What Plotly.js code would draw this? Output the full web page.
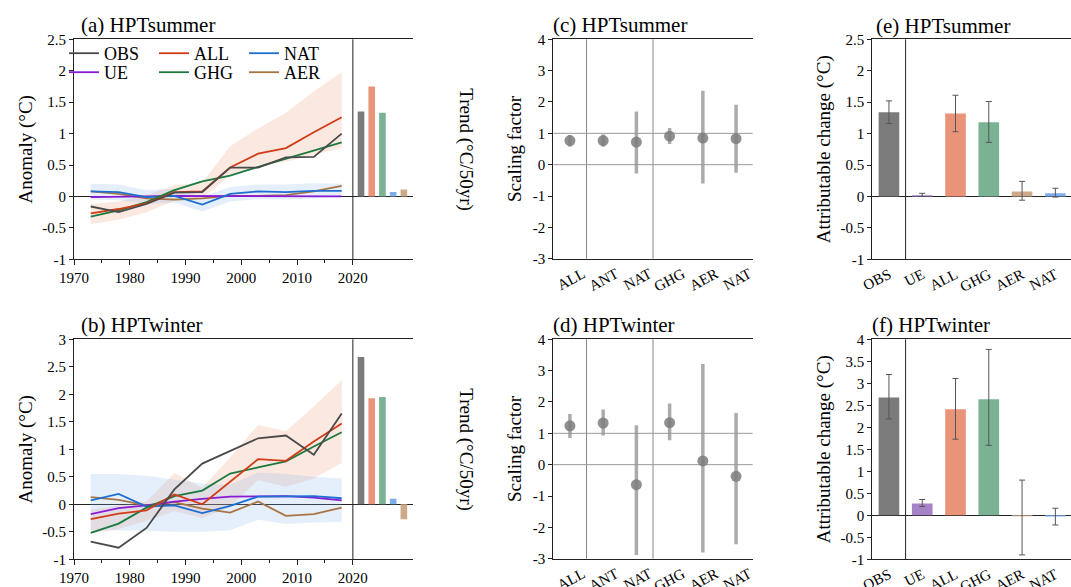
<!DOCTYPE html>
<html><head><meta charset="utf-8">
<script src="https://cdn.plot.ly/plotly-3.0.1.min.js"></script>
<style>html,body{margin:0;padding:0;background:#fff}</style>
</head><body><div id="chart" style="width:1071px;height:587px"></div>
<script>
// ---------- data ----------
const years = [1973,1978,1983,1988,1993,1998,2003,2008,2013,2018];

// (a) HPTsummer anomalies
const obsA = [-0.16,-0.25,-0.12,0.06,0.07,0.46,0.46,0.62,0.63,1.00];
const allA = [-0.27,-0.20,-0.11,0.07,0.08,0.46,0.68,0.77,1.02,1.26];
const natA = [0.08,0.07,-0.01,0.01,-0.13,0.04,0.08,0.07,0.09,0.09];
const ueA  = [-0.01,-0.01,0.00,0.01,0.01,0.01,0.01,0.01,0.01,0.00];
const ghgA = [-0.32,-0.22,-0.09,0.10,0.24,0.33,0.47,0.60,0.73,0.86];
const aerA = [0.08,0.04,-0.03,-0.05,-0.03,0.01,0.01,0.02,0.08,0.17];
const allLoA = [-0.44,-0.37,-0.25,-0.07,-0.04,0.34,0.50,0.55,0.66,0.77];
const allHiA = [-0.12,-0.08,0.02,0.18,0.22,0.80,1.08,1.33,1.67,1.98];
const natLoA = [-0.05,-0.06,-0.12,-0.10,-0.24,-0.08,-0.04,-0.05,-0.03,-0.01];
const natHiA = [0.20,0.19,0.10,0.12,-0.01,0.15,0.19,0.19,0.21,0.20];

// (b) HPTwinter anomalies
const obsB = [-0.68,-0.79,-0.43,0.27,0.74,0.97,1.20,1.25,0.90,1.65];
const allB = [-0.27,-0.17,-0.11,0.18,0.00,0.41,0.82,0.79,1.14,1.47];
const natB = [0.07,0.19,-0.04,-0.02,-0.16,-0.03,0.14,0.15,0.15,0.11];
const ueB  = [-0.18,-0.07,-0.02,0.05,0.10,0.14,0.145,0.15,0.12,0.07];
const ghgB = [-0.52,-0.35,-0.06,0.15,0.25,0.56,0.67,0.78,1.05,1.31];
const aerB = [0.13,0.08,-0.02,0.04,-0.08,-0.15,0.05,-0.21,-0.18,-0.06];
const allLoB = [-0.53,-0.45,-0.30,-0.12,-0.25,-0.05,0.44,0.32,0.47,0.75];
const allHiB = [-0.10,-0.02,0.05,0.57,0.30,0.85,1.44,1.33,1.78,2.26];
const natLoB = [-0.47,-0.47,-0.48,-0.50,-0.50,-0.47,-0.28,-0.36,-0.33,-0.32];
const natHiB = [0.55,0.55,0.52,0.45,0.38,0.35,0.58,0.55,0.50,0.47];

// trend bars (°C/50yr)
const trendCats = ['OBS','ALL','GHG','NAT','AER'];
const trendA = [1.35,1.75,1.33,0.07,0.11];
const trendB = [2.68,1.93,1.95,0.10,-0.27];

// scaling factors
const sfLabels = ['ALL','ANT','NAT','GHG','AER','NAT'];
const sfC   = [0.77,0.77,0.72,0.91,0.85,0.83];
const sfCLo = [0.57,0.57,-0.28,0.66,-0.60,-0.26];
const sfCHi = [0.95,0.96,1.70,1.17,2.36,1.91];
const sfD   = [1.24,1.33,-0.64,1.34,0.12,-0.37];
const sfDLo = [0.85,0.93,-2.88,0.78,-2.80,-2.54];
const sfDHi = [1.62,1.76,1.26,1.95,3.21,1.65];

// attributable change (°C)
const acCats = ['OBS','UE','ALL','GHG','AER','NAT'];
const acE   = [1.34,0.02,1.32,1.18,0.08,0.05];
const acELo = [1.16,0.00,1.03,0.86,-0.06,-0.01];
const acEHi = [1.52,0.05,1.61,1.51,0.24,0.13];
const acF   = [2.68,0.27,2.41,2.64,-0.02,-0.03];
const acFLo = [2.19,0.20,1.73,1.59,-0.90,-0.22];
const acFHi = [3.20,0.36,3.11,3.77,0.80,0.16];

// ticks
const yTicksA = [-1,-0.5,0,0.5,1,1.5,2,2.5];
const yTicksB = [-1,-0.5,0,0.5,1,1.5,2,2.5,3];
const yTicksSF = [-3,-2,-1,0,1,2,3,4];
const yTicksE = [-1,-0.5,0,0.5,1,1.5,2,2.5];
const yTicksF = [-1,-0.5,0,0.5,1,1.5,2,2.5,3,3.5,4];
const xTicksYears = [1970,1980,1990,2000,2010,2020];
const xMinorYears = [1975,1985,1995,2005,2015];

// ---------- style ----------
const W = 1071, H = 587;
const FONT = 'Liberation Serif';
const AX = '#222';
const C = {OBS:'#4a4a4a', ALL:'#d13b16', NAT:'#1f6fd1', UE:'#8a1ad6', GHG:'#1b7a3e', AER:'#a87444'};
const BAR = {OBS:'#7b7b7b', UE:'#a882c6', ALL:'#e99479', GHG:'#7ab394', NAT:'#7eaeea', AER:'#cdaa8a'};
const BAND_ALL = 'rgba(236,150,120,0.22)';
const BAND_NAT = 'rgba(130,180,235,0.22)';
const splitYear = 2020, xEnd = 2030.84;

const px = v => v / W;
const py = v => 1 - v / H;
const tt = a => a.map(v => String(v));
const tickfont = () => ({family: FONT, size: 15, color: '#000'});
const titlefont = () => ({family: FONT, size: 19, color: '#000'});

const dom = {
  tsX: [px(74), px(413.3)], barX: [px(352.7), px(413.3)],
  topY: [py(259.3), py(39.3)], botY: [py(559.3), py(339.3)],
  sfX: [px(553.3), px(752.7)], sfTopY: [py(258.7), py(39.3)], sfBotY: [py(558.7), py(339.3)],
  acX: [px(872.3), 1]
};

const traces = [];
function band(xa, ya, lo, hi, color) {
  traces.push({x: years.concat(years.slice().reverse()), y: hi.concat(lo.slice().reverse()),
    xaxis: xa, yaxis: ya, type: 'scatter', mode: 'lines', fill: 'toself', fillcolor: color,
    line: {width: 0, color: color}, hoverinfo: 'skip', showlegend: false});
}
function series(xa, ya, name, ys, leg, rank, show) {
  traces.push({x: years, y: ys, xaxis: xa, yaxis: ya, type: 'scatter', mode: 'lines', name: name,
    line: {color: C[name], width: 1.8}, showlegend: show, legend: leg, legendrank: rank});
}
function tsPanel(xa, ya, xb, d, show) {
  band(xa, ya, d.allLo, d.allHi, BAND_ALL);
  band(xa, ya, d.natLo, d.natHi, BAND_NAT);
  series(xa, ya, 'AER', d.aer, 'legend2', 6, show);
  series(xa, ya, 'UE', d.ue, 'legend2', 4, show);
  series(xa, ya, 'NAT', d.nat, 'legend', 3, show);
  series(xa, ya, 'GHG', d.ghg, 'legend2', 5, show);
  series(xa, ya, 'ALL', d.all, 'legend', 2, show);
  series(xa, ya, 'OBS', d.obs, 'legend', 1, show);
  traces.push({x: trendCats, y: d.trend, xaxis: xb, yaxis: ya, type: 'bar', width: 0.62,
    marker: {color: trendCats.map(k => BAR[k])}, showlegend: false});
}
tsPanel('x', 'y', 'x2', {obs: obsA, all: allA, nat: natA, ue: ueA, ghg: ghgA, aer: aerA,
  allLo: allLoA, allHi: allHiA, natLo: natLoA, natHi: natHiA, trend: trendA}, true);
tsPanel('x3', 'y3', 'x4', {obs: obsB, all: allB, nat: natB, ue: ueB, ghg: ghgB, aer: aerB,
  allLo: allLoB, allHi: allHiB, natLo: natLoB, natHi: natHiB, trend: trendB}, false);

const sfIdx = sfLabels.map((_, i) => i);
function sfPanel(xa, ya, best, lo, hi) {
  traces.push({x: sfIdx, y: best, xaxis: xa, yaxis: ya, type: 'scatter', mode: 'markers',
    marker: {size: 11, color: 'rgba(125,125,125,0.85)'},
    error_y: {type: 'data', symmetric: false, array: hi.map((h, i) => h - best[i]),
      arrayminus: lo.map((l, i) => best[i] - l), thickness: 3.5, width: 0, color: 'rgba(150,150,150,0.8)'},
    showlegend: false});
}
sfPanel('x5', 'y5', sfC, sfCLo, sfCHi);
sfPanel('x6', 'y6', sfD, sfDLo, sfDHi);

function acPanel(xa, ya, v, lo, hi) {
  traces.push({x: acCats, y: v, xaxis: xa, yaxis: ya, type: 'bar', width: 0.62,
    marker: {color: acCats.map(k => BAR[k])},
    error_y: {type: 'data', symmetric: false, array: hi.map((h, i) => h - v[i]),
      arrayminus: lo.map((l, i) => v[i] - l), thickness: 1, width: 3, color: '#555'},
    showlegend: false});
}
acPanel('x7', 'y7', acE, acELo, acEHi);
acPanel('x8', 'y8', acF, acFLo, acFHi);

// ---------- axes ----------
function timeX(anchor) {
  return {domain: dom.tsX, anchor: anchor, range: [1970, xEnd], tickvals: xTicksYears, ticktext: tt(xTicksYears),
    ticks: 'outside', ticklen: 5, tickcolor: AX,
    minor: {tickvals: xMinorYears, ticks: 'outside', ticklen: 3, tickcolor: AX},
    showline: true, linecolor: AX, mirror: true, showgrid: false, zeroline: false, tickfont: tickfont()};
}
function barX(anchor) {
  return {domain: dom.barX, anchor: anchor, type: 'category', categoryorder: 'array', categoryarray: trendCats,
    range: [-0.775, 4.88], showticklabels: false, ticks: '', showline: false, showgrid: false, zeroline: false};
}
function leftY(anchor, d, ticks, title, standoff, zl) {
  return {domain: d, anchor: anchor, range: [ticks[0], ticks[ticks.length - 1]], tickvals: ticks, ticktext: tt(ticks),
    ticks: 'outside', ticklen: 4, tickcolor: AX, showline: true, linecolor: AX, showgrid: false,
    zeroline: zl, zerolinecolor: AX, zerolinewidth: 1, tickfont: tickfont(),
    title: {text: title, font: titlefont(), standoff: standoff}};
}
function rightY(over, anchor, ticks) {
  return {overlaying: over, side: 'right', anchor: anchor, range: [ticks[0], ticks[ticks.length - 1]],
    tickvals: ticks, ticktext: tt(ticks), ticks: 'outside', ticklen: 4, tickcolor: AX,
    showline: true, linecolor: AX, showgrid: false, zeroline: false, tickfont: tickfont()};
}
function sfX(anchor) {
  return {domain: dom.sfX, anchor: anchor, range: [-0.5, 5.5], tickvals: sfIdx, ticktext: sfLabels,
    tickangle: -28, ticklabelshift: 13, ticks: '', showline: true, linecolor: AX, mirror: true,
    showgrid: false, zeroline: false, tickfont: tickfont()};
}
function acX(anchor) {
  return {domain: dom.acX, anchor: anchor, type: 'category', categoryorder: 'array', categoryarray: acCats,
    range: [-0.5, 5.47], tickangle: -27, ticks: '', showline: true, linecolor: AX, mirror: true,
    showgrid: false, zeroline: false, tickfont: tickfont()};
}
function legendBox(yTop) {
  return {x: px(64), y: py(yTop), xanchor: 'left', yanchor: 'top', orientation: 'h',
    entrywidth: 45, entrywidthmode: 'pixels', font: {family: FONT, size: 18, color: '#000'},
    bgcolor: 'rgba(0,0,0,0)', tracegroupgap: 0};
}

const layout = {
  width: W, height: H, margin: {l: 0, r: 0, t: 0, b: 0},
  paper_bgcolor: '#fff', plot_bgcolor: 'rgba(0,0,0,0)',
  font: {family: FONT, size: 15, color: '#000'},
  xaxis: timeX('y'), xaxis2: barX('y'),
  yaxis: leftY('x', dom.topY, yTicksA, 'Anomaly (°C)', 4, true),
  yaxis2: rightY('y', 'x', yTicksA),
  xaxis3: timeX('y3'), xaxis4: barX('y3'),
  yaxis3: leftY('x3', dom.botY, yTicksB, 'Anomaly (°C)', 4, true),
  yaxis4: rightY('y3', 'x3', yTicksB),
  xaxis5: sfX('y5'), yaxis5: leftY('x5', dom.sfTopY, yTicksSF, 'Scaling factor', 6, false),
  xaxis6: sfX('y6'), yaxis6: leftY('x6', dom.sfBotY, yTicksSF, 'Scaling factor', 6, false),
  xaxis7: acX('y7'), yaxis7: leftY('x7', dom.topY, yTicksE, 'Attributable change (°C)', 4, true),
  xaxis8: acX('y8'), yaxis8: leftY('x8', dom.botY, yTicksF, 'Attributable change (°C)', 4, true),
  legend: legendBox(35),
  legend2: legendBox(54),
  shapes: [],
  annotations: []
};

// separators and reference lines
[['x', 'y'], ['x3', 'y3']].forEach(([xa, ya]) => layout.shapes.push(
  {type: 'line', xref: xa, yref: ya + ' domain', x0: splitYear, x1: splitYear, y0: 0, y1: 1, line: {color: AX, width: 1}}));
const sfSeparators = [0.5, 2.5], sfRefs = [0, 1];
[['x5', 'y5'], ['x6', 'y6']].forEach(([xa, ya]) => {
  sfSeparators.forEach(s => layout.shapes.push({type: 'line', layer: 'below', xref: xa, yref: ya + ' domain',
    x0: s, x1: s, y0: 0, y1: 1, line: {color: '#888', width: 1}}));
  sfRefs.forEach(r => layout.shapes.push({type: 'line', layer: 'below', xref: xa + ' domain', yref: ya,
    x0: 0, x1: 1, y0: r, y1: r, line: {color: '#999', width: 1}}));
});
const acSeparator = 0.5;
[['x7', 'y7'], ['x8', 'y8']].forEach(([xa, ya]) => layout.shapes.push(
  {type: 'line', xref: xa, yref: ya + ' domain', x0: acSeparator, x1: acSeparator, y0: 0, y1: 1, line: {color: AX, width: 1}}));

// panel titles
const panelTitles = [
  ['(a) HPTsummer', 79, 25.4], ['(b) HPTwinter', 79, 325.4],
  ['(c) HPTsummer', 551, 25.4], ['(d) HPTwinter', 551, 325.4],
  ['(e) HPTsummer', 874, 25.7], ['(f) HPTwinter', 870, 324.5]
];
panelTitles.forEach(([t, x, y]) => layout.annotations.push({text: t, xref: 'paper', yref: 'paper',
  x: px(x), y: py(y), xanchor: 'left', yanchor: 'middle', showarrow: false,
  font: {family: FONT, size: 21, color: '#000'}}));
// right axis titles
[149.3, 449.3].forEach(y => layout.annotations.push({text: 'Trend (°C/50yr)', xref: 'paper', yref: 'paper',
  x: px(466), y: py(y), xanchor: 'center', yanchor: 'middle', textangle: 90, showarrow: false, font: titlefont()}));

Plotly.newPlot('chart', traces, layout, {displayModeBar: false, staticPlot: true});
</script></body></html>
